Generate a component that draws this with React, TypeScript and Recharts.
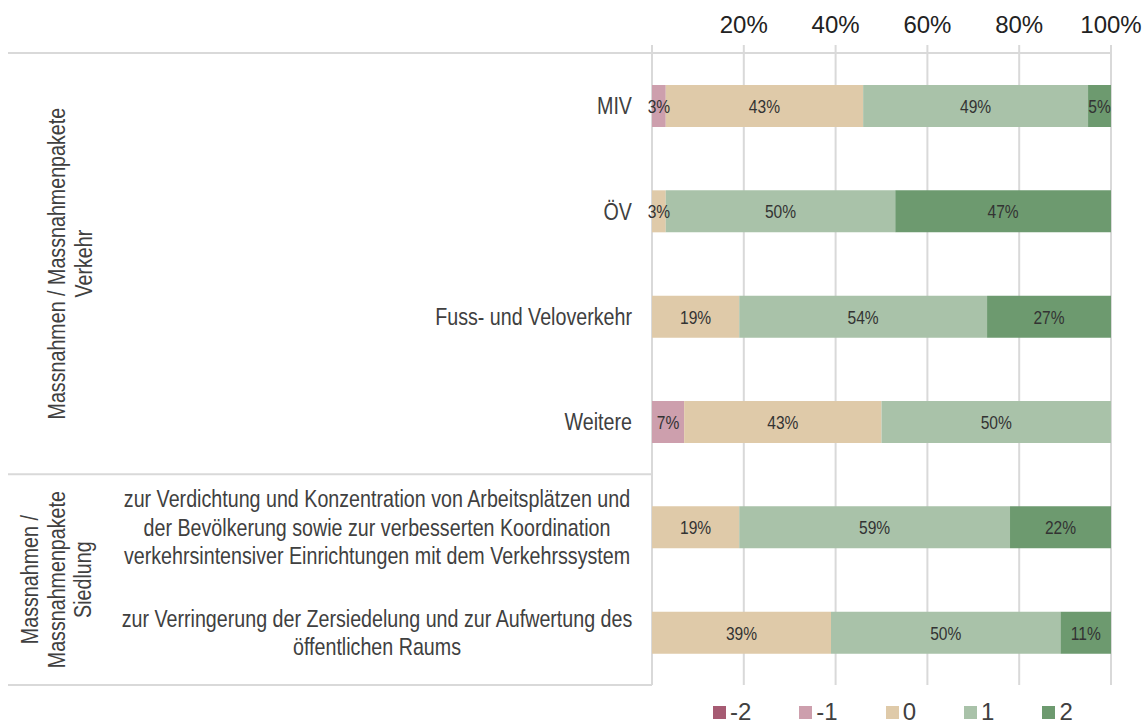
import React from 'react';
import { BarChart, Bar, XAxis, YAxis, CartesianGrid, LabelList } from 'recharts';

const categories = [
  'MIV',
  'ÖV',
  'Fuss- und Veloverkehr',
  'Weitere',
  'zur Verdichtung und Konzentration von Arbeitsplätzen und der Bevölkerung sowie zur verbesserten Koordination verkehrsintensiver Einrichtungen mit dem Verkehrssystem',
  'zur Verringerung der Zersiedelung und zur Aufwertung des öffentlichen Raums',
];
const categoryLines = [
  ['MIV'],
  ['ÖV'],
  ['Fuss- und Veloverkehr'],
  ['Weitere'],
  [
    'zur Verdichtung und Konzentration von Arbeitsplätzen und',
    'der Bevölkerung sowie zur verbesserten Koordination',
    'verkehrsintensiver Einrichtungen mit dem Verkehrssystem',
  ],
  ['zur Verringerung der Zersiedelung und zur Aufwertung des', 'öffentlichen Raums'],
];

const seriesNames = ['-2', '-1', '0', '1', '2'];
const valuesMinus2 = [0, 0, 0, 0, 0, 0];
const valuesMinus1 = [3, 0, 0, 7, 0, 0];
const values0 = [43, 3, 19, 43, 19, 39];
const values1 = [49, 50, 54, 50, 59, 50];
const values2 = [5, 47, 27, 0, 22, 11];
const seriesColors = ['#a65b73', '#cd9fad', '#dfcaa9', '#a9c2a9', '#6d9a6f'];

const xTicks = [0, 20, 40, 60, 80, 100];

const groups = [
  { lines: ['Massnahmen / Massnahmenpakete', 'Verkehr'], from: 0, to: 4, cx: 70 },
  { lines: ['Massnahmen /', 'Massnahmenpakete', 'Siedlung'], from: 4, to: 6, cx: 56 },
];

const seriesValues = [valuesMinus2, valuesMinus1, values0, values1, values2];
const data = categories.map((c, i) => {
  const row: Record<string, any> = { name: c, idx: i };
  seriesNames.forEach((s, k) => {
    row['s' + k] = seriesValues[k][i];
  });
  return row;
});

const W = 1147;
const H = 725;
const AXIS_H = 45;
const MARGIN = { top: 8, right: 36, bottom: 40, left: 0 };
const YW = 652;
const plotTop = MARGIN.top + AXIS_H;
const plotBottom = H - MARGIN.bottom;
const band = (plotBottom - plotTop) / categories.length;

const SANS = '"Liberation Sans", Arial, sans-serif';
const NARROW_SCALE = 0.82;
const TEXT = '#404040';
const LINE = '#d9d9d9';

const CategoryTick = (props: any) => {
  const { y, payload } = props;
  const lines = categoryLines[payload.index] || [payload.value];
  const lh = 28.5;
  const multi = lines.length > 1;
  const x = multi ? 377 : 632;
  const startDy = -((lines.length - 1) * lh) / 2;
  return (
    <g transform={`translate(${x}, ${y}) scale(${NARROW_SCALE}, 1)`}>
      <text textAnchor={multi ? 'middle' : 'end'} fill={TEXT} fontFamily={SANS} fontSize={24}>
        {lines.map((l: string, i: number) => (
          <tspan key={i} x={0} y={startDy + i * lh} dy="0.36em">
            {l}
          </tspan>
        ))}
      </text>
    </g>
  );
};

const BarLabel = (props: any) => {
  const { x, y, width, height, value } = props;
  if (!(value > 0)) return null;
  const cx = Number(x) + Number(width) / 2;
  const cy = Number(y) + Number(height) / 2;
  return (
    <g transform={`translate(${cx}, ${cy}) scale(${NARROW_SCALE}, 1)`}>
      <text textAnchor="middle" dy="0.36em" fill="#333" fontFamily={SANS} fontSize={19}>
        {`${value}%`}
      </text>
    </g>
  );
};

export default function App() {
  return (
    <div style={{ position: 'absolute', left: 0, top: 0, width: W, height: H, background: '#fff' }}>
      <BarChart width={W} height={H} data={data} layout="vertical" margin={MARGIN} barSize={42}>
        <CartesianGrid horizontal={false} stroke={LINE} strokeWidth={2} />
        <XAxis
          type="number"
          orientation="top"
          domain={[0, 100]}
          ticks={xTicks}
          height={AXIS_H}
          tickFormatter={(v) => (v === 0 ? '' : `${v}%`)}
          tick={{ fill: '#222', fontSize: 24, fontFamily: SANS }}
          tickSize={8}
          tickMargin={12}
          tickLine={{ stroke: LINE, strokeWidth: 2 }}
          axisLine={{ stroke: LINE, strokeWidth: 2 }}
          allowDataOverflow
        />
        <YAxis
          type="category"
          dataKey="name"
          width={YW}
          axisLine={false}
          tickLine={false}
          tick={<CategoryTick />}
          interval={0}
        />
        {seriesNames.map((s, k) => (
          <Bar key={s} dataKey={'s' + k} name={s} stackId="a" fill={seriesColors[k]} isAnimationActive={false}>
            <LabelList dataKey={'s' + k} content={<BarLabel />} />
          </Bar>
        ))}
      </BarChart>
      <svg width={W} height={H} style={{ position: 'absolute', left: 0, top: 0, pointerEvents: 'none' }}>
        <line x1={8} x2={YW} y1={plotTop} y2={plotTop} stroke={LINE} strokeWidth={2} />
        <line x1={8} x2={YW} y1={plotTop + 4 * band} y2={plotTop + 4 * band} stroke={LINE} strokeWidth={2} />
        <line x1={8} x2={YW} y1={plotBottom} y2={plotBottom} stroke={LINE} strokeWidth={2} />
        {groups.map((g, gi) => {
          const cy = plotTop + ((g.from + g.to) / 2) * band;
          const lh = 26.5;
          const start = -((g.lines.length - 1) * lh) / 2;
          return (
            <g key={gi} transform={`translate(${g.cx}, ${cy}) rotate(-90) scale(${NARROW_SCALE}, 1)`}>
              <text textAnchor="middle" fill={TEXT} fontFamily={SANS} fontSize={24}>
                {g.lines.map((l, i) => (
                  <tspan key={i} x={0} y={start + i * lh} dy="0.36em">
                    {l}
                  </tspan>
                ))}
              </text>
            </g>
          );
        })}
      </svg>
      <div
        style={{
          position: 'absolute',
          left: 713,
          top: 698,
          display: 'flex',
          alignItems: 'center',
          gap: 48,
          fontFamily: SANS,
          fontSize: 24,
          color: TEXT,
          lineHeight: '28px',
        }}
      >
        {seriesNames.map((s, k) => (
          <div key={s} style={{ display: 'flex', alignItems: 'center' }}>
            <span
              style={{ display: 'inline-block', width: 13, height: 13, background: seriesColors[k], marginRight: 4 }}
            />
            <span>{s}</span>
          </div>
        ))}
      </div>
    </div>
  );
}
